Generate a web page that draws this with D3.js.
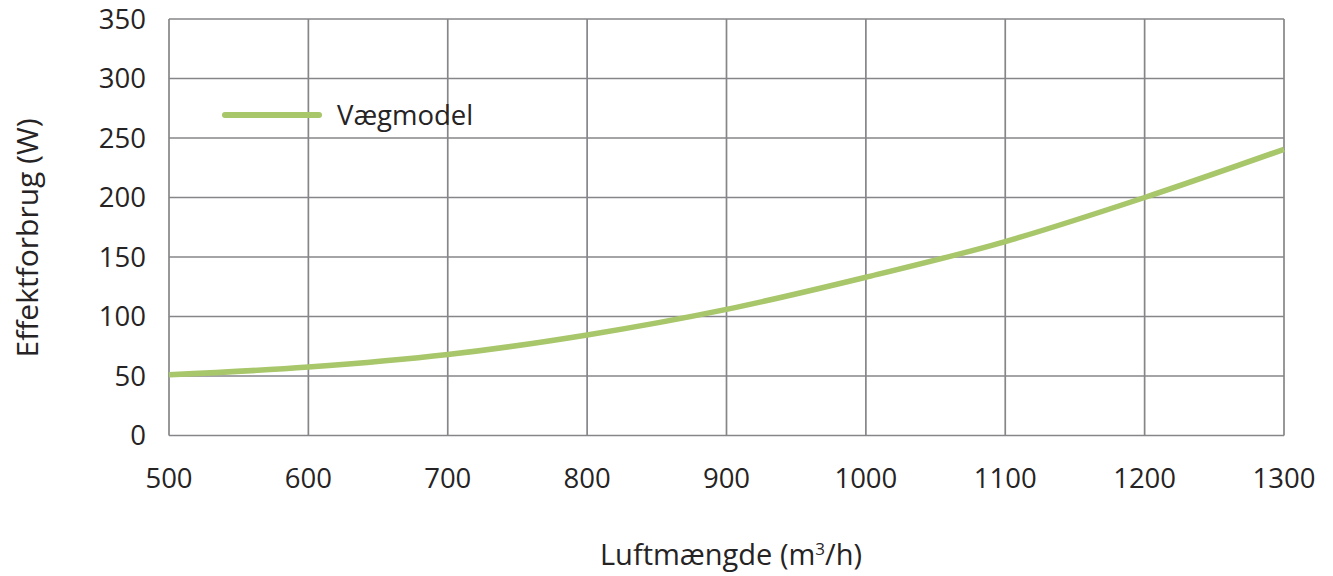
<!DOCTYPE html>
<html><head><meta charset="utf-8">
<script src="https://cdn.jsdelivr.net/npm/d3@7"></script>
<style>body{margin:0;background:#fff;} text{font-family:"Open Sans","Noto Sans",sans-serif;fill:#262324;}</style>
</head><body>
<svg id="c" width="1333" height="576"></svg>
<script>
const airflow = [500, 600, 700, 800, 900, 1000, 1100, 1200, 1300];
const power = [51, 57.5, 68, 84.5, 106, 133, 163, 200, 240.5];
const xTicks = [500, 600, 700, 800, 900, 1000, 1100, 1200, 1300];
const yTicks = [0, 50, 100, 150, 200, 250, 300, 350];
const seriesName = "Vægmodel";

const svg = d3.select("#c");
const m = {l:169, r:1284, t:19, b:435.5};
const x = d3.scaleLinear().domain([500,1300]).range([m.l, m.r]);
const y = d3.scaleLinear().domain([0,350]).range([m.b, m.t]);
const gridC = "#86868a";

const g = svg.append("g");
g.selectAll(".hg").data(yTicks).enter().append("line")
 .attr("x1", m.l).attr("x2", m.r).attr("y1", d=>y(d)).attr("y2", d=>y(d))
 .attr("stroke", gridC).attr("stroke-width", 1.7);
g.selectAll(".vg").data(xTicks).enter().append("line")
 .attr("y1", m.t).attr("y2", m.b).attr("x1", d=>x(d)).attr("x2", d=>x(d))
 .attr("stroke", gridC).attr("stroke-width", 1.7);

g.selectAll(".yl").data(yTicks).enter().append("text")
 .attr("x", 146).attr("y", d=>y(d)).attr("dy","0.36em").attr("text-anchor","end")
 .attr("font-size", 27.5).text(d=>d);
g.selectAll(".xl").data(xTicks).enter().append("text")
 .attr("x", d=>x(d)).attr("y", 478).attr("dy","0.36em").attr("text-anchor","middle")
 .attr("font-size", 27.5).text(d=>d);

const line = d3.line().x((d,i)=>x(airflow[i])).y(d=>y(d)).curve(d3.curveMonotoneX);
svg.append("path").datum(power).attr("d", line).attr("fill","none")
 .attr("stroke","#a8c66a").attr("stroke-width",5.5);

svg.append("line").attr("x1",225).attr("x2",319).attr("y1",115).attr("y2",115)
 .attr("stroke","#a8c66a").attr("stroke-width",6).attr("stroke-linecap","round");
svg.append("text").attr("x",337).attr("y",115).attr("dy","0.36em").attr("font-size",27.5).text(seriesName);

svg.append("text").attr("transform","translate(27,238) rotate(-90)").attr("text-anchor","middle")
 .attr("dy","0.36em").attr("font-size",30).text("Effektforbrug (W)");
const xt = svg.append("text").attr("x",731).attr("y",555).attr("dy","0.36em").attr("text-anchor","middle").attr("font-size",29);
xt.append("tspan").text("Luftmængde (m");
xt.append("tspan").attr("font-size",17).attr("dy","-0.6em").text("3");
xt.append("tspan").attr("dy","0.35em").text("/h)");
</script>
</body></html>
